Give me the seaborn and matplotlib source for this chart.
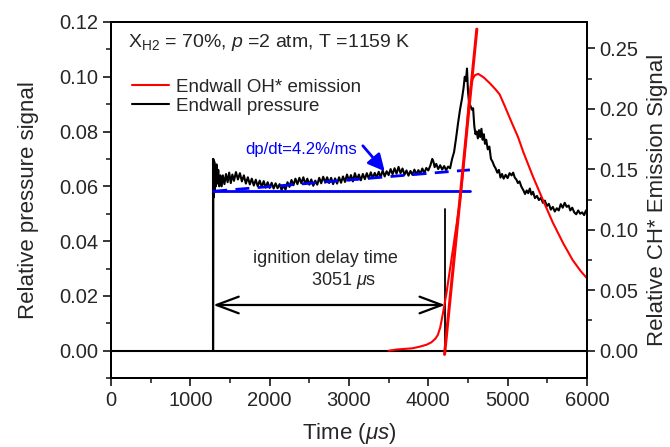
import numpy as np
import pandas as pd
import matplotlib
matplotlib.use('Agg')
import matplotlib.pyplot as plt
from matplotlib.ticker import MultipleLocator
import seaborn as sns

# endwall pressure trace (left axis)
p_time = [1288, 1290, 1296, 1302, 1308, 1314, 1322, 1330, 1340, 1352, 1365, 1380, 1395,
          1410, 1430, 1450, 1470, 1490, 1510, 1530, 1550, 1575, 1600, 1625, 1650, 1675,
          1700, 1725, 1750, 1775, 1800, 1825, 1850, 1875, 1900, 1925, 1950, 1975, 2000,
          2025, 2050, 2075, 2100, 2125, 2150, 2175, 2200, 2225, 2250, 2275, 2300, 2325,
          2350, 2375, 2400, 2425, 2450, 2475, 2500, 2525, 2550, 2575, 2600, 2625, 2650,
          2675, 2700, 2725, 2750, 2775, 2800, 2825, 2850, 2875, 2900, 2925, 2950, 2975,
          3000, 3025, 3050, 3075, 3100, 3125, 3150, 3175, 3200, 3225, 3250, 3275, 3300,
          3325, 3350, 3375, 3400, 3425, 3450, 3475, 3500, 3525, 3550, 3575, 3600, 3625,
          3650, 3675, 3700, 3725, 3750, 3775, 3800, 3825, 3850, 3875, 3900, 3925, 3950,
          3975, 4000, 4025, 4050, 4065, 4080, 4100, 4125, 4150, 4175, 4200, 4225, 4250,
          4275, 4300, 4325, 4350, 4375, 4400, 4425, 4445, 4460, 4475, 4488, 4500, 4515,
          4530, 4550, 4565, 4580, 4595, 4610, 4625, 4640, 4655, 4670, 4685, 4700, 4715,
          4730, 4750, 4770, 4790, 4810, 4830, 4850, 4870, 4890, 4910, 4930, 4950, 4975,
          5000, 5025, 5050, 5070, 5090, 5110, 5130, 5150, 5175, 5200, 5220, 5240, 5260,
          5280, 5300, 5320, 5345, 5370, 5395, 5420, 5445, 5470, 5495, 5520, 5545, 5570,
          5595, 5620, 5645, 5670, 5695, 5720, 5745, 5770, 5790, 5815, 5840, 5865, 5890,
          5915, 5940, 5965, 5985, 6000]
p_val = [0.000, 0.070, 0.056, 0.069, 0.058, 0.067, 0.060, 0.068, 0.061, 0.066, 0.060, 0.064, 0.060,
         0.0640, 0.0608, 0.0645, 0.0615, 0.0650, 0.0612, 0.0643, 0.0620, 0.0652, 0.0625, 0.0648, 0.0618, 0.0640,
         0.0610, 0.0633, 0.0607, 0.0628, 0.0603, 0.0624, 0.0600, 0.0621, 0.0598, 0.0619, 0.0595, 0.0615, 0.0594,
         0.0613, 0.0592, 0.0611, 0.0593, 0.0608, 0.0587, 0.0603, 0.0588, 0.0615, 0.0598, 0.0623, 0.0604, 0.0628,
         0.0608, 0.0631, 0.0611, 0.0633, 0.0608, 0.0628, 0.0606, 0.0625, 0.0602, 0.0621, 0.0606, 0.0631, 0.0611,
         0.0635, 0.0614, 0.0633, 0.0612, 0.0631, 0.0608, 0.0629, 0.0610, 0.0633, 0.0613, 0.0636, 0.0616, 0.0643,
         0.0621, 0.0641, 0.0618, 0.0648, 0.0624, 0.0643, 0.0622, 0.0645, 0.0626, 0.0648, 0.0628, 0.0651, 0.0630,
         0.0649, 0.0632, 0.0653, 0.0634, 0.0658, 0.0636, 0.0655, 0.0641, 0.0663, 0.0644, 0.0666, 0.0646, 0.0671,
         0.0648, 0.0665, 0.0642, 0.0658, 0.0639, 0.0656, 0.0642, 0.0661, 0.0644, 0.0659, 0.0646, 0.0665, 0.0648,
         0.0667, 0.0658, 0.0675, 0.0700, 0.0690, 0.0670, 0.0682, 0.0663, 0.0677, 0.0661, 0.0674, 0.0659, 0.0672,
         0.0666, 0.0700, 0.0725, 0.0775, 0.0830, 0.0880, 0.0920, 0.0960, 0.1000, 0.0985, 0.1030, 0.0950, 0.0900,
         0.0895, 0.0880, 0.0885, 0.0820, 0.0790, 0.0800, 0.0775, 0.0805, 0.0780, 0.0810, 0.0770, 0.0790, 0.0755,
         0.0770, 0.0735, 0.0745, 0.0700, 0.0690, 0.0675, 0.0665, 0.0650, 0.0660, 0.0632, 0.0645, 0.0628, 0.0642,
         0.0630, 0.0648, 0.0640, 0.0650, 0.0632, 0.0625, 0.0612, 0.0618, 0.0598, 0.0585, 0.0572, 0.0585, 0.0575,
         0.0592, 0.0570, 0.0580, 0.0557, 0.0565, 0.0550, 0.0558, 0.0540, 0.0548, 0.0528, 0.0536, 0.0515, 0.0525,
         0.0508, 0.0520, 0.0512, 0.0535, 0.0522, 0.0540, 0.0525, 0.0530, 0.0512, 0.0522, 0.0505, 0.0498, 0.0512,
         0.0500, 0.0505, 0.0495, 0.0510, 0.0515]

# endwall OH* emission (right axis)
oh_time = [3500, 3600, 3700, 3800, 3900, 3980, 4040, 4090, 4120, 4150, 4185, 4230, 4273, 4320,
           4360, 4400, 4440, 4480, 4510, 4540, 4560, 4590, 4630, 4700, 4780, 4850, 4900, 4960,
           5050, 5130, 5200, 5320, 5450, 5570, 5700, 5820, 5920, 6000]
oh_val = [0.000, 0.001, 0.0015, 0.002, 0.0035, 0.005, 0.007, 0.010, 0.013, 0.019, 0.031, 0.048, 0.067, 0.088,
          0.106, 0.124, 0.150, 0.180, 0.205, 0.220, 0.225, 0.228, 0.229, 0.226, 0.221, 0.216, 0.212, 0.203,
          0.189, 0.177, 0.164, 0.144, 0.124, 0.106, 0.089, 0.075, 0.066, 0.060]

# construction lines
t_start = 1290          # pressure jump
t_ign = 4210            # intercept of the OH* tangent with baseline
ign_line_top = 0.0516
arrow_y = 0.0167
p_base = 0.0582         # flat reference (solid blue)
slope_t = [1290, 4525]  # dp/dt fit (dashed blue)
slope_v = [0.0582, 0.0660]
tangent_t = [4205, 4612]
tangent_v = [-0.003, 0.266]

sns.set_theme(style='ticks')
plt.rcParams['font.family'] = ['Liberation Sans', 'DejaVu Sans']
plt.rcParams['mathtext.fontset'] = 'custom'
plt.rcParams['mathtext.rm'] = 'Liberation Sans'
plt.rcParams['mathtext.it'] = 'Liberation Sans:italic'
plt.rcParams['axes.linewidth'] = 1.4

press = pd.DataFrame({'t': p_time, 'p': p_val})
oh = pd.DataFrame({'t': oh_time, 'v': oh_val})

fig, ax = plt.subplots(figsize=(6.7, 4.47), dpi=100)
fig.subplots_adjust(left=0.1657, right=0.876, bottom=0.154, top=0.951)

ax.axhline(0, color='black', lw=1.5)
sns.lineplot(data=press, x='t', y='p', ax=ax, color='black', lw=1.5,
             estimator=None, sort=False)
ax.plot([t_ign, t_ign], [0, ign_line_top], color='black', lw=1.3)
ax.plot([t_start, t_start], [0, p_val[1]], color='black', lw=1.5)
ax.plot(slope_t, [p_base, p_base], color='blue', lw=2)
ax.plot(slope_t, slope_v, color='blue', lw=2, dashes=(5, 3))

ax.annotate('', xy=(t_ign, arrow_y), xytext=(t_start, arrow_y),
            arrowprops=dict(arrowstyle='<->,head_length=0.8,head_width=0.3',
                            color='black', lw=1.6, mutation_scale=20,
                            shrinkA=0, shrinkB=0))
ax.text(2704, 0.0338, 'ignition delay time', ha='center', va='center', fontsize=13)
ax.text(2937, 0.0258, '3051 $\\mu$s', ha='center', va='center', fontsize=13)

ax.text(1690, 0.0735, 'dp/dt=4.2%/ms', color='blue', ha='left', va='center', fontsize=12)
ax.annotate('', xy=(3450, 0.0655), xytext=(3175, 0.0748),
            arrowprops=dict(arrowstyle='-|>,head_length=0.5,head_width=0.25',
                            color='blue', lw=2, mutation_scale=20,
                            shrinkA=0, shrinkB=0))

ax.text(0.036, 0.941, 'X$_{\\mathrm{H2}}$ = 70%, $p$ =2 atm, T =1159 K',
        transform=ax.transAxes, ha='left', va='center', fontsize=14)

ax2 = ax.twinx()
sns.lineplot(data=oh, x='t', y='v', ax=ax2, color='red', lw=1.5,
             estimator=None, sort=False)
ax2.plot(tangent_t, tangent_v, color='red', lw=2.2)

ax.set_xlim(0, 6000)
ax.set_ylim(-0.01, 0.12)
ax2.set_ylim(-0.0227, 0.272)

ax.xaxis.set_major_locator(MultipleLocator(1000))
ax.xaxis.set_minor_locator(MultipleLocator(500))
ax.yaxis.set_major_locator(MultipleLocator(0.02))
ax.yaxis.set_minor_locator(MultipleLocator(0.01))
ax2.yaxis.set_major_locator(MultipleLocator(0.05))
ax2.yaxis.set_minor_locator(MultipleLocator(0.025))
ax.yaxis.set_major_formatter(lambda v, pos: f'{v:.2f}')
ax2.yaxis.set_major_formatter(lambda v, pos: f'{v:.2f}')

for a in (ax, ax2):
    a.tick_params(which='major', direction='out', length=6, width=1.3, labelsize=14.5, pad=3)
    a.tick_params(which='minor', direction='out', length=3.5, width=1.2)
    for s in a.spines.values():
        s.set_visible(True)
        s.set_linewidth(1.4)
        s.set_color('black')
ax.tick_params(top=False, right=False)
ax2.tick_params(left=False, top=False)

ax.set_xlabel('Time ($\\mu s$)', fontsize=16, labelpad=8)
ax.set_ylabel('Relative pressure signal', fontsize=16, labelpad=15)
ax2.set_ylabel('Relative CH* Emission Signal', fontsize=16, labelpad=6)

h_red = ax2.lines[0]
h_black = ax.lines[1]
ax2.legend([h_red, h_black], ['Endwall OH* emission', 'Endwall pressure'],
           loc='upper left', bbox_to_anchor=(0.044, 0.84), frameon=False,
           fontsize=13.5, handlelength=2.0, handletextpad=0.35,
           labelspacing=0.1, borderpad=0, borderaxespad=0)

plt.savefig('out.png', dpi=100)
